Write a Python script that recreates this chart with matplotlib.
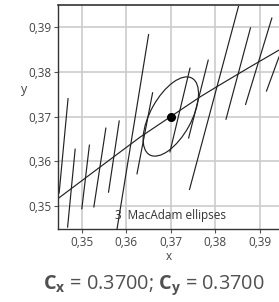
import matplotlib
matplotlib.use("Agg")
import matplotlib.pyplot as plt
from matplotlib.patches import Ellipse

# Planckian locus points
locus_x = [0.3447, 0.3530, 0.3631, 0.3700, 0.3766, 0.3809, 0.3880, 0.3944]
locus_y = [0.3517, 0.3579, 0.3654, 0.3700, 0.3744, 0.3770, 0.3812, 0.3849]

# isotemperature line segments (start / end)
iso_x0 = [0.3469, 0.3485, 0.3517, 0.3554, 0.3584, 0.3650, 0.3659, 0.3743, 0.3784, 0.3852, 0.3879, 0.3927, 0.3943]
iso_y0 = [0.3740, 0.3627, 0.3636, 0.3674, 0.3690, 0.3883, 0.3753, 0.3808, 0.3826, 0.3946, 0.3898, 0.3920, 0.3833]
iso_x1 = [0.3449, 0.3468, 0.3500, 0.3527, 0.3560, 0.3579, 0.3624, 0.3698, 0.3740, 0.3742, 0.3824, 0.3868, 0.3915]
iso_y1 = [0.3529, 0.3453, 0.3494, 0.3498, 0.3531, 0.3448, 0.3572, 0.3621, 0.3652, 0.3537, 0.3694, 0.3727, 0.3757]

# chromaticity point and its MacAdam ellipse
cx, cy = 0.3700, 0.3700
ell_a, ell_b, ell_angle = 0.0098, 0.0046, 61

x_ticks = [0.35, 0.36, 0.37, 0.38, 0.39]
y_ticks = [0.35, 0.36, 0.37, 0.38, 0.39]

plt.rcParams['font.family'] = ['Open Sans', 'DejaVu Sans']
plt.rcParams['mathtext.fontset'] = 'custom'
plt.rcParams['mathtext.rm'] = 'Open Sans'
plt.rcParams['mathtext.bf'] = 'Open Sans:bold'

fig = plt.figure(figsize=(2.79, 3.02), dpi=100)
ax = fig.add_axes([0.208, 0.2417, 0.792, 0.7417])

line_col = '#222222'
for x0, y0, x1, y1 in zip(iso_x0, iso_y0, iso_x1, iso_y1):
    ax.plot([x0, x1], [y0, y1], color=line_col, linewidth=0.85)
ax.plot(locus_x, locus_y, color=line_col, linewidth=0.85)

ax.add_patch(Ellipse((cx, cy), 2 * ell_a, 2 * ell_b, angle=ell_angle,
                     fill=False, edgecolor=line_col, linewidth=0.85))
ax.plot([cx], [cy], 'o', color='black', markersize=5.5)

ax.text(0.3700, 0.3478, '3  MacAdam ellipses', ha='center', va='center',
        fontsize=8.5, color='#333333')

ax.set_xlim(0.34465, 0.39431)
ax.set_ylim(0.34486, 0.39492)
ax.set_xticks(x_ticks)
ax.set_yticks(y_ticks)
ax.set_xticklabels([f'{v:.2f}'.replace('.', ',') for v in x_ticks])
ax.set_yticklabels([f'{v:.2f}'.replace('.', ',') for v in y_ticks])
ax.tick_params(labelsize=8.5, colors='#555555', labelcolor='#444444',
               length=3, width=0.8, pad=2)
ax.grid(True, color='#cccccc', linewidth=1.2)
ax.set_axisbelow(True)
ax.spines['right'].set_visible(False)
for s in ['left', 'bottom']:
    ax.spines[s].set_color('#333333')
    ax.spines[s].set_linewidth(1.0)
ax.spines['top'].set_color('#333333')
ax.spines['top'].set_linewidth(1.2)

ax.set_xlabel('x', fontsize=8.5, color='#444444', labelpad=1)
ax.set_ylabel('y', fontsize=9, color='#444444', rotation=0, labelpad=2)
ax.yaxis.set_label_coords(-0.155, 0.595)

fig.text(0.553, 0.057, r'$\mathbf{C_x}$ = 0.3700; $\mathbf{C_y}$ = 0.3700',
         ha='center', va='center', fontsize=14.3, color='#505050')

fig.savefig('out.png', dpi=100)
